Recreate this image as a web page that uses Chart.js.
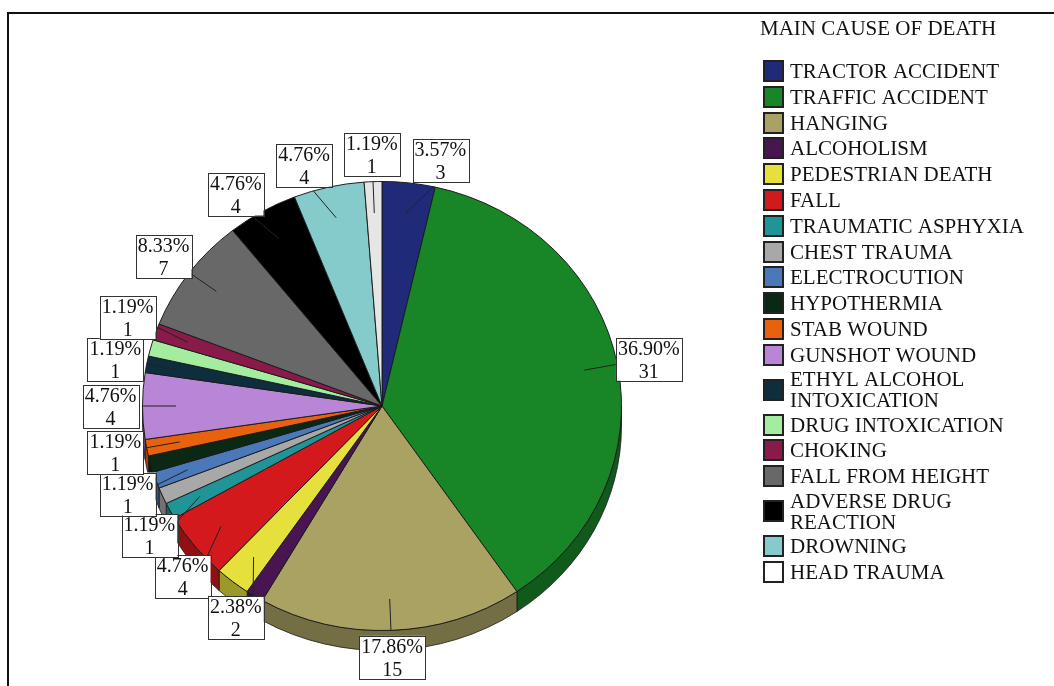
<!DOCTYPE html>
<html>
<head>
<meta charset="utf-8">
<script src="https://cdn.jsdelivr.net/npm/chart.js@4.4.0/dist/chart.umd.min.js"></script>
<style>
    html, body { margin: 0; padding: 0; background: #fff; }
    #wrap { position: relative; width: 1054px; height: 686px; }
</style>
</head>
<body>
<div id="wrap"><canvas id="pie-chart" width="1054" height="686"></canvas></div>
<script>
// data (84 cases)
const causes = ['TRACTOR ACCIDENT', 'TRAFFIC ACCIDENT', 'HANGING', 'ALCOHOLISM', 'PEDESTRIAN DEATH',
    'FALL', 'TRAUMATIC ASPHYXIA', 'CHEST TRAUMA', 'ELECTROCUTION', 'HYPOTHERMIA', 'STAB WOUND',
    'GUNSHOT WOUND', 'ETHYL ALCOHOL\nINTOXICATION', 'DRUG INTOXICATION', 'CHOKING', 'FALL FROM HEIGHT',
    'ADVERSE DRUG\nREACTION', 'DROWNING', 'HEAD TRAUMA'];
const counts = [3, 31, 15, 1, 2, 4, 1, 1, 1, 1, 1, 4, 1, 1, 1, 7, 4, 4, 1];
const sliceColors = ['#1f2b78', '#188527', '#a9a262', '#481550', '#e6e03c', '#d3191c', '#1f9597',
    '#a8a8a8', '#4a78b8', '#0a2814', '#e8620e', '#b985d6', '#0e2e3e', '#a4eca0', '#8a1a4a',
    '#686868', '#000000', '#86cbcb', '#e6e6e6'];
const legendColors = sliceColors.map((c, i) => i === sliceColors.length - 1 ? '#ffffff' : c);
const legendTitle = 'MAIN CAUSE OF DEATH';

const FONT = '"Liberation Serif", "DejaVu Serif", serif';
const TILT = 0.9375;   // pie is seen slightly from above
const DEPTH = 20;      // thickness of the 3d rim
const total = counts.reduce((a, b) => a + b, 0);

function shade(hex, f) {
    const n = parseInt(hex.slice(1), 16);
    const r = Math.round(((n >> 16) & 255) * f);
    const g = Math.round(((n >> 8) & 255) * f);
    const b = Math.round((n & 255) * f);
    return `rgb(${r},${g},${b})`;
}

// rim under the pie + squash the pie into an ellipse
const pie3d = {
    id: 'pie3d',
    beforeDatasetsDraw(chart) {
        const ctx = chart.ctx;
        const arcs = chart.getDatasetMeta(0).data;
        const { x, y, outerRadius } = arcs[0];
        const ry = outerRadius * TILT;
        ctx.save();
        arcs.forEach((arc, i) => {
            const a0 = Math.max(arc.startAngle, 0);
            const a1 = Math.min(arc.endAngle, Math.PI);
            if (a1 <= a0) return;
            ctx.beginPath();
            ctx.ellipse(x, y, outerRadius, ry, 0, a0, a1);
            ctx.ellipse(x, y + DEPTH, outerRadius, ry, 0, a1, a0, true);
            ctx.closePath();
            ctx.fillStyle = shade(sliceColors[i], 0.68);
            ctx.fill();
            ctx.strokeStyle = '#1a1a1a';
            ctx.lineWidth = 0.8;
            ctx.stroke();
        });
        ctx.restore();
        ctx.save();
        ctx.translate(x, y);
        ctx.scale(1, TILT);
        ctx.translate(-x, -y);
    },
    afterDatasetsDraw(chart) {
        chart.ctx.restore();
    }
};

// percent / count boxes around the pie
const sliceLabels = {
    id: 'sliceLabels',
    afterDraw(chart) {
        const ctx = chart.ctx;
        const arcs = chart.getDatasetMeta(0).data;
        const { x, y, outerRadius } = arcs[0];
        const ry = outerRadius * TILT;
        const LX = outerRadius + 32, LY = ry + 27;
        const BOX_H = 43;
        const mids = arcs.map(a => (a.startAngle + a.endAngle) / 2);
        const phi = mids.slice();
        ctx.save();
        ctx.font = '20px ' + FONT;
        const texts = counts.map(v => [(v / total * 100).toFixed(2) + '%', String(v)]);
        const widths = texts.map(t => Math.max(ctx.measureText(t[0]).width, ctx.measureText(t[1]).width) + 4);

        // which labels get drawn: big slices first, skip ones too close to a drawn one
        const minGap = 7.5 * Math.PI / 180;
        const norm = a => Math.atan2(Math.sin(a), Math.cos(a));
        const order = counts.map((v, i) => i).sort((a, b) => counts[b] - counts[a] || a - b);
        const shown = [];
        order.forEach(i => {
            if (shown.every(j => Math.abs(norm(mids[i] - mids[j])) >= minGap)) shown.push(i);
        });

        const boxAt = i => {
            const cx = x + LX * Math.cos(phi[i]), cy = y + LY * Math.sin(phi[i]);
            return { l: cx - widths[i] / 2, r: cx + widths[i] / 2, t: cy - BOX_H / 2, b: cy + BOX_H / 2 };
        };
        const gapX = 12, gapY = -2;
        const overlaps = (a, b) => a.l < b.r + gapX && b.l < a.r + gapX && a.t < b.b + gapY && b.t < a.b + gapY;

        // place from the nearest axis outwards, pushing later labels away from it
        const axisOf = m => (Math.sin(m) < -0.8 ? -Math.PI / 2 : (Math.cos(m) < 0 ? Math.PI : 0));
        const step = 0.2 * Math.PI / 180;
        const placed = [];
        shown.map(i => ({ i, axis: axisOf(mids[i]), d: Math.abs(norm(mids[i] - axisOf(mids[i]))) }))
            .sort((a, b) => a.d - b.d)
            .forEach(({ i, axis }) => {
                const dir = norm(mids[i] - axis) >= 0 ? 1 : -1;
                for (let k = 0; k < 600 && placed.some(j => overlaps(boxAt(i), boxAt(j))); k++) phi[i] += dir * step;
                placed.push(i);
            });

        shown.forEach(i => {
            const bx = boxAt(i);
            // leader line
            ctx.beginPath();
            ctx.moveTo(x + outerRadius * 0.86 * Math.cos(mids[i]), y + ry * 0.86 * Math.sin(mids[i]));
            ctx.lineTo(x + outerRadius * Math.cos(phi[i]), y + ry * Math.sin(phi[i]));
            ctx.strokeStyle = '#222';
            ctx.lineWidth = 1;
            ctx.stroke();
            ctx.fillStyle = '#fff';
            ctx.fillRect(bx.l, bx.t, bx.r - bx.l, bx.b - bx.t);
            ctx.strokeStyle = '#333';
            ctx.strokeRect(Math.round(bx.l) + 0.5, Math.round(bx.t) + 0.5, Math.round(bx.r - bx.l), Math.round(bx.b - bx.t));
            ctx.fillStyle = '#111';
            ctx.textAlign = 'center';
            ctx.textBaseline = 'alphabetic';
            const mx = (bx.l + bx.r) / 2;
            ctx.fillText(texts[i][0], mx, bx.t + 17);
            ctx.fillText(texts[i][1], mx, bx.t + 40);
        });
        ctx.restore();
    }
};

// legend on the right and the outer frame
const sideLegend = {
    id: 'sideLegend',
    afterDraw(chart) {
        const ctx = chart.ctx;
        ctx.save();
        ctx.fillStyle = '#111';
        ctx.textAlign = 'left';
        ctx.textBaseline = 'alphabetic';
        ctx.font = '21px ' + FONT;
        ctx.fillText(legendTitle, 760, 35);
        let cur = 58.1;
        causes.forEach((c, i) => {
            const lines = c.split('\n');
            const h = lines.length > 1 ? 44 : 25.8;
            const cy = cur + h / 2;
            ctx.fillStyle = legendColors[i];
            ctx.fillRect(764, Math.round(cy - 10), 19, 20);
            ctx.strokeStyle = '#222';
            ctx.lineWidth = 2;
            ctx.strokeRect(764, Math.round(cy - 10), 19, 20);
            ctx.fillStyle = '#111';
            lines.forEach((ln, k) => {
                ctx.fillText(ln, 790, cy + 7 + (k - (lines.length - 1) / 2) * 21);
            });
            cur += h;
        });
        ctx.strokeStyle = '#111';
        ctx.lineWidth = 2;
        ctx.strokeRect(8, 13, 1200, 1200);
        ctx.restore();
    }
};

new Chart(document.querySelector('#pie-chart').getContext('2d'), {
    type: 'pie',
    data: {
        labels: causes,
        datasets: [{
            data: counts,
            backgroundColor: sliceColors,
            borderColor: '#1a1a1a',
            borderWidth: 1,
            clip: false
        }]
    },
    options: {
        responsive: false,
        animation: false,
        layout: { padding: { left: 142, right: 432, top: 166, bottom: 40 } },
        plugins: {
            legend: { display: false },
            tooltip: { enabled: false }
        }
    },
    plugins: [pie3d, sliceLabels, sideLegend]
});
</script>
</body>
</html>
